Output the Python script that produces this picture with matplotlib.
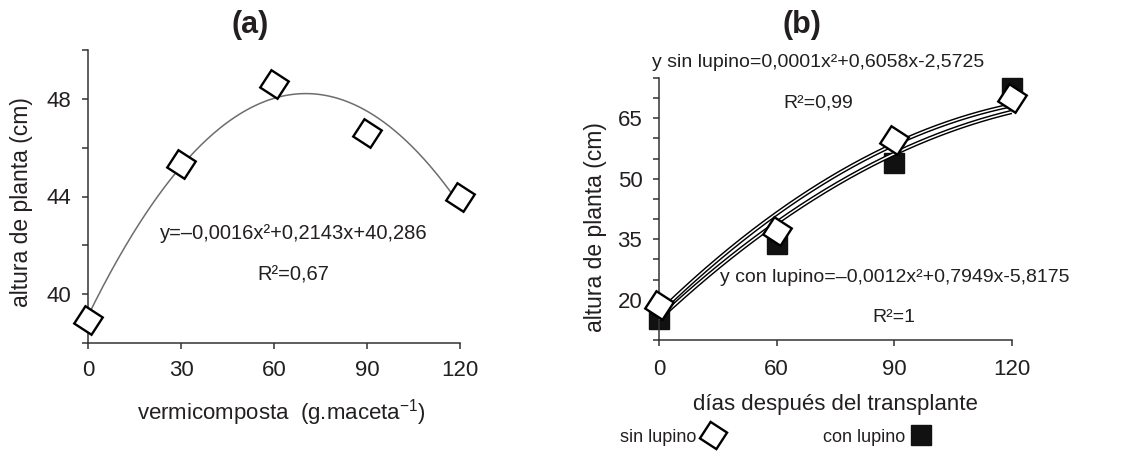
import numpy as np
import matplotlib
matplotlib.use("Agg")
import matplotlib.pyplot as plt
from matplotlib.lines import Line2D

plt.rcParams['font.family'] = ['Liberation Sans', 'DejaVu Sans']
plt.rcParams['mathtext.fontset'] = 'custom'
plt.rcParams['mathtext.rm'] = 'Liberation Sans'
plt.rcParams['mathtext.it'] = 'Liberation Sans:italic'
plt.rcParams['mathtext.bf'] = 'Liberation Sans:bold'

INK = '#231f20'

# ---------------- data ----------------
# panel (a)
vermi_x = [0, 30, 60, 90, 120]
vermi_altura = [38.95, 45.35, 48.6, 46.6, 44.0]

# panel (b)
dias_labels = ['0', '60', '90', '120']
sin_lupino = [18.7, 37.0, 59.5, 70.0]
con_lupino = [15.3, 33.7, 54.0, 72.5]
# trend lines at each category position
trend_sin_b = [16.3, 42.7, 57.2, 68.7]
trend_con_b = [14.8, 40.3, 55.0, 67.0]

eq_a = 'y=–0,0016x²+0,2143x+40,286'
r2_a = 'R²=0,67'
eq_sin = 'y sin lupino=0,0001x²+0,6058x-2,5725'
r2_sin = 'R²=0,99'
eq_con = 'y con lupino=–0,0012x²+0,7949x-5,8175'
r2_con = 'R²=1'

W, H = 1146, 454
fig = plt.figure(figsize=(W / 100, H / 100), dpi=100)

diamond = (4, 0, 12)
dkw = dict(marker=diamond, markersize=21, markerfacecolor='white',
           markeredgecolor='black', markeredgewidth=1.7, linestyle='none',
           clip_on=False, zorder=5)


def style_axes(ax):
    for s in ['top', 'right']:
        ax.spines[s].set_visible(False)
    for s in ['left', 'bottom']:
        ax.spines[s].set_linewidth(1.1)
        ax.spines[s].set_color('#333333')
    ax.tick_params(axis='both', direction='out', length=4, width=1.1,
                   color='#333333', labelsize=16, labelcolor=INK)


# ---------------- panel (a) ----------------
axa = fig.add_axes([88 / W, 1 - 343 / H, (460 - 88) / W, (343 - 50) / H])
style_axes(axa)
axa.set_xlim(0, 120)
axa.set_ylim(38, 50)
axa.set_xticks(vermi_x)
axa.set_yticks(np.arange(38, 50.1, 2))
axa.set_yticklabels(['' if v % 4 else f'{v:.0f}' for v in np.arange(38, 50.1, 2)])
axa.tick_params(axis='y', pad=8)
axa.tick_params(axis='x', pad=8)

coef = np.polyfit(vermi_x, vermi_altura, 2)
xs = np.linspace(0, 120, 300)
axa.plot(xs, np.polyval(coef, xs), color='#6d6d6d', lw=1.1, zorder=3)
axa.plot(vermi_x, vermi_altura, **dkw)

axa.text(0.552, 0.375, eq_a, transform=axa.transAxes, ha='center', va='center',
         fontsize=14.5, color=INK)
axa.text(0.552, 0.232, r2_a, transform=axa.transAxes, ha='center', va='center',
         fontsize=14.5, color=INK)

axa.set_xlabel('vermicomposta  (g.maceta$^{-1}$)', fontsize=16, color=INK)
axa.xaxis.set_label_coords(0.52, -0.239)
axa.xaxis.label.set_va('center')
axa.set_ylabel('altura de planta (cm)', fontsize=16.5, color=INK)
axa.yaxis.set_label_coords(-0.178, 0.481)
axa.yaxis.label.set_va('center')
fig.text(250 / W, 1 - 25 / H, '(a)', ha='center', va='center', fontsize=22,
         fontweight='bold', color=INK)

# ---------------- panel (b) ----------------
bl = 659
axb = fig.add_axes([bl / W, 1 - 340 / H, (1012 - bl) / W, (340 - 78) / H])
style_axes(axb)
pos = np.arange(len(dias_labels))
axb.set_xlim(0, 3)
axb.set_ylim(10, 75)
axb.set_xticks(pos)
axb.set_xticklabels(dias_labels)
yt = np.arange(10, 75.1, 5)
axb.set_yticks(yt)
axb.set_yticklabels([f'{v:.0f}' if v in (20, 35, 50, 65) else '' for v in yt])
axb.tick_params(axis='y', pad=8)
axb.tick_params(axis='x', pad=10)

axb.plot(pos, con_lupino, marker='s', markersize=15, markerfacecolor='#111111',
         markeredgecolor='#111111', linestyle='none', clip_on=False, zorder=2)

xf = np.linspace(0, 3, 300)
for tr in (trend_sin_b, trend_con_b):
    c = np.polyfit(pos, tr, 2)
    yy = np.polyval(c, xf)
    axb.plot(xf, yy, color='black', lw=3.2, zorder=3, solid_capstyle='butt')
    axb.plot(xf, yy, color='white', lw=1.1, zorder=3.1, solid_capstyle='butt')

axb.plot(pos, sin_lupino, **dkw)

axb.text(0.45, 1.061, eq_sin, transform=axb.transAxes, ha='center', va='center',
         fontsize=14, color=INK)
axb.text(0.45, 0.905, r2_sin, transform=axb.transAxes, ha='center', va='center',
         fontsize=14, color=INK)
axb.text(0.668, 0.237, eq_con, transform=axb.transAxes, ha='center', va='center',
         fontsize=14, color=INK)
axb.text(0.666, 0.084, r2_con, transform=axb.transAxes, ha='center', va='center',
         fontsize=14, color=INK)

axb.set_xlabel('días después del transplante', fontsize=16, color=INK)
axb.xaxis.set_label_coords(0.50, -0.248)
axb.xaxis.label.set_va('center')
axb.set_ylabel('altura de planta (cm)', fontsize=16.5, color=INK)
axb.yaxis.set_label_coords(-0.18, 0.431)
axb.yaxis.label.set_va('center')
fig.text(802 / W, 1 - 25 / H, '(b)', ha='center', va='center', fontsize=22,
         fontweight='bold', color=INK)

# legend
h_sin = Line2D([], [], marker=diamond, markersize=20, markerfacecolor='white',
               markeredgecolor='black', markeredgewidth=1.7, linestyle='none')
h_con = Line2D([], [], marker='s', markersize=14, markerfacecolor='#111111',
               markeredgecolor='#111111', linestyle='none')
fig.legend([h_sin, h_con], ['sin lupino', 'con lupino'], loc='center',
           bbox_to_anchor=(776 / W, 1 - 437 / H), ncol=2, frameon=False,
           markerfirst=False, fontsize=13, handlelength=1.2, handletextpad=0.3,
           columnspacing=5.5, labelcolor=INK)

fig.savefig('out.png', dpi=100)
